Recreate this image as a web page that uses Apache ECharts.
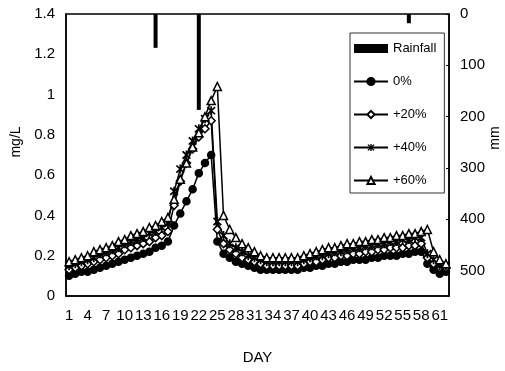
<!DOCTYPE html>
<html>
<head>
  <meta charset="utf-8">
</head>
<body style="margin: 0; background: #fff">
  <div id="container" style="width: 505px; height: 371px"></div>

  <script type="text/javascript" src="https://cdn.jsdelivr.net/npm/echarts@6/dist/echarts.min.js"></script>
  <script type="text/javascript">
    var myChart = echarts.init(document.getElementById('container'));

    // days 1..62
    const days = [1, 2, 3, 4, 5, 6, 7, 8, 9, 10, 11, 12, 13, 14, 15, 16, 17, 18, 19, 20,
      21, 22, 23, 24, 25, 26, 27, 28, 29, 30, 31, 32, 33, 34, 35, 36, 37, 38, 39, 40,
      41, 42, 43, 44, 45, 46, 47, 48, 49, 50, 51, 52, 53, 54, 55, 56, 57, 58, 59, 60, 61, 62];

    // mm, hangs from the top (right axis reversed)
    const rainfall = [0, 0, 0, 0, 0, 0, 0, 0, 0, 0, 0, 0, 0, 0, 66, 0, 0, 0, 0, 0,
      0, 187, 0, 0, 0, 0, 0, 0, 0, 0, 0, 0, 0, 0, 0, 0, 0, 0, 0, 0,
      0, 0, 0, 0, 0, 0, 0, 0, 0, 0, 0, 0, 0, 0, 0, 18, 0, 0, 0, 0, 0, 0];

    const p0 = [0.10, 0.11, 0.12, 0.12, 0.13, 0.14, 0.15, 0.16, 0.17, 0.18, 0.19, 0.20, 0.21, 0.22, 0.24, 0.25, 0.27,
      0.35, 0.41, 0.47, 0.53, 0.61, 0.66, 0.70,
      0.27, 0.21, 0.19, 0.17, 0.16, 0.15, 0.14, 0.13, 0.13, 0.13, 0.13, 0.13, 0.13, 0.13,
      0.14, 0.14, 0.15, 0.15, 0.16, 0.16, 0.17, 0.17, 0.18, 0.18, 0.18, 0.19, 0.19, 0.20, 0.20, 0.20, 0.21, 0.21, 0.22, 0.22,
      0.16, 0.13, 0.11, 0.12];

    const p20 = [0.13, 0.14, 0.15, 0.16, 0.17, 0.18, 0.19, 0.20, 0.21, 0.23, 0.24, 0.25, 0.26, 0.27, 0.29, 0.30, 0.32,
      0.45, 0.57, 0.66, 0.73, 0.79, 0.83, 0.87,
      0.33, 0.26, 0.23, 0.21, 0.19, 0.18, 0.17, 0.16, 0.15, 0.15, 0.15, 0.15, 0.15, 0.15,
      0.16, 0.17, 0.17, 0.18, 0.19, 0.19, 0.20, 0.20, 0.21, 0.21, 0.22, 0.22, 0.23, 0.23, 0.24, 0.24, 0.24, 0.25, 0.25, 0.26,
      0.19, 0.16, 0.14, 0.14];

    const p40 = [0.15, 0.16, 0.17, 0.18, 0.19, 0.21, 0.22, 0.23, 0.24, 0.26, 0.27, 0.28, 0.29, 0.31, 0.32, 0.34, 0.36,
      0.52, 0.63, 0.70, 0.77, 0.83, 0.88, 0.92,
      0.37, 0.30, 0.26, 0.24, 0.22, 0.20, 0.19, 0.18, 0.17, 0.17, 0.17, 0.17, 0.17, 0.17,
      0.18, 0.19, 0.20, 0.20, 0.21, 0.22, 0.22, 0.23, 0.24, 0.24, 0.25, 0.25, 0.26, 0.26, 0.27, 0.27, 0.28, 0.28, 0.29, 0.29,
      0.21, 0.18, 0.15, 0.15];

    const p60 = [0.17, 0.18, 0.19, 0.20, 0.22, 0.23, 0.24, 0.25, 0.27, 0.28, 0.30, 0.31, 0.32, 0.34, 0.35, 0.37, 0.39,
      0.48, 0.58, 0.66, 0.74, 0.81, 0.89, 0.97,
      1.04, 0.40, 0.33, 0.29, 0.26, 0.24, 0.22, 0.20, 0.19, 0.19, 0.19, 0.19, 0.19, 0.19,
      0.20, 0.21, 0.22, 0.23, 0.24, 0.24, 0.25, 0.26, 0.26, 0.27, 0.27, 0.28, 0.28, 0.29, 0.29, 0.30, 0.30, 0.31, 0.31, 0.32,
      0.33, 0.22, 0.18, 0.16];

    const font = '"Liberation Sans Narrow", "Liberation Sans", Arial, sans-serif';
    // excel-style star marker: vertical bar plus two diagonals, filled
    const asterisk = 'path://M4.1 0L5.9 0L5.9 10L4.1 10Z' +
      'M0.36 1.64L1.64 0.36L9.64 8.36L8.36 9.64Z' +
      'M8.36 0.36L9.64 1.64L1.64 9.64L0.36 8.36Z';

    function lineSeries(name, data, symbol, size, filled, bw) {
      return {
        name: name,
        type: 'line',
        data: data,
        symbol: symbol,
        symbolSize: size,
        showAllSymbol: true,
        z: 3,
        lineStyle: { color: '#000', width: 1.5 },
        itemStyle: {
          color: filled ? '#000' : '#fff',
          borderColor: '#000',
          borderWidth: bw
        }
      };
    }

    var option = {
      animation: false,
      textStyle: { fontFamily: font, color: '#000' },
      grid: {
        left: 66, right: 56, top: 14, bottom: 75,
        containLabel: false,
        outerBoundsMode: 'none',
        show: true, borderColor: '#000', borderWidth: 1.5
      },
      // right axis title, placed by hand
      graphic: [
        {
          type: 'text',
          x: 495,
          y: 138,
          rotation: Math.PI / 2,
          style: {
            text: 'mm',
            font: '14px ' + font,
            fill: '#000',
            align: 'center',
            verticalAlign: 'middle'
          }
        }
      ],
      legend: {
        orient: 'vertical',
        left: 350,
        top: 33,
        padding: [9, 8, 6, 3],
        itemGap: 20,
        itemWidth: 34,
        itemHeight: 9,
        borderColor: '#333',
        borderWidth: 1,
        textStyle: { fontFamily: font, fontSize: 13, color: '#000' },
        data: [
          { name: 'Rainfall', icon: 'rect' },
          '0%', '+20%', '+40%', '+60%'
        ]
      },
      xAxis: {
        type: 'category',
        data: days,
        name: 'DAY',
        nameLocation: 'middle',
        nameGap: 54,
        nameTextStyle: { fontFamily: font, fontSize: 15, color: '#000' },
        axisLine: { lineStyle: { color: '#000', width: 1.5 } },
        axisTick: { inside: true, length: 5, interval: 0, lineStyle: { color: '#000' } },
        axisLabel: { interval: 2, margin: 12, fontSize: 15, color: '#000', fontFamily: font }
      },
      yAxis: [
        {
          type: 'value',
          min: 0, max: 1.4, interval: 0.2,
          name: 'mg/L',
          nameLocation: 'middle',
          nameGap: 41,
          nameTextStyle: { fontFamily: font, fontSize: 14, color: '#000', padding: [0, 0, 0, 26] },
          splitLine: { show: false },
          axisLine: { show: true, lineStyle: { color: '#000', width: 1.5 } },
          axisTick: { show: false },
          axisLabel: { margin: 11, fontSize: 15, color: '#000', fontFamily: font }
        },
        {
          type: 'value',
          inverse: true,
          min: 0, max: 550, interval: 100,
          splitLine: { show: false },
          axisLine: { show: true, lineStyle: { color: '#000', width: 1.5 } },
          axisTick: { show: true, inside: true, length: 3, lineStyle: { color: '#000' } },
          axisLabel: { margin: 11, fontSize: 15, color: '#000', fontFamily: font, showMaxLabel: false }
        }
      ],
      series: [
        {
          name: 'Rainfall',
          type: 'bar',
          yAxisIndex: 1,
          data: rainfall,
          barWidth: 4,
          z: 2,
          itemStyle: { color: '#000' }
        },
        lineSeries('0%', p0, 'circle', 7, true, 1.5),
        lineSeries('+20%', p20, 'diamond', 8, false, 1.5),
        lineSeries('+40%', p40, asterisk, 9, true, 0),
        lineSeries('+60%', p60, 'triangle', 8, false, 1.5)
      ]
    };

    myChart.setOption(option);
    window.addEventListener('resize', myChart.resize);
  </script>
</body>
</html>
